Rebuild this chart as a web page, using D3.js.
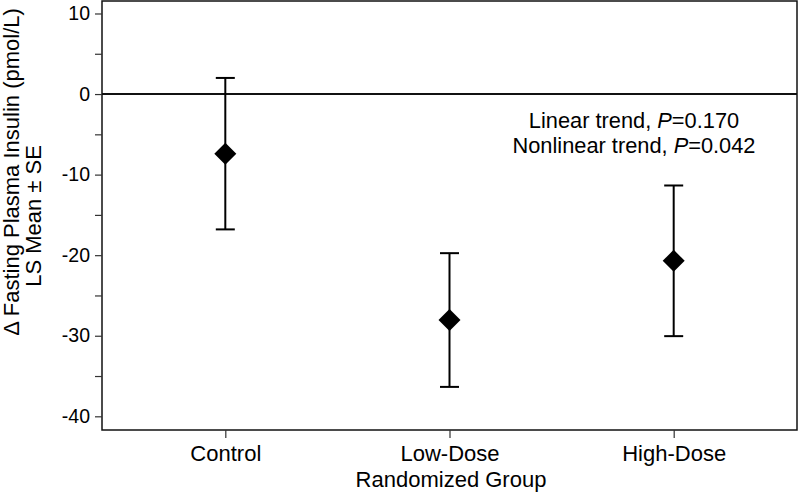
<!DOCTYPE html>
<html>
<head>
<meta charset="utf-8">
<script src="https://cdn.jsdelivr.net/npm/d3@7"></script>
<style>
  body { margin: 0; background: #fff; }
  svg { display: block; font-family: "Liberation Sans", Arial, sans-serif; }
</style>
</head>
<body>
<svg id="chart" width="800" height="495"></svg>
<script>
// LS mean change in fasting insulin, by randomized group
var groups = ["Control", "Low-Dose", "High-Dose"];
var means = [-7.4, -28.05, -20.7];
var lower = [-16.8, -36.35, -30.05];
var upper = [2.0, -19.75, -11.35];
var yTicks = [10, 5, 0, -5, -10, -15, -20, -25, -30, -35, -40];
var notes = ["Linear trend, |P|=0.170", "Nonlinear trend, |P|=0.042"];

var svg = d3.select("#chart");
var plot = {left: 102, right: 797, top: 1, bottom: 430};

var x = d3.scalePoint()
    .domain(groups)
    .range([plot.left, plot.right])
    .padding(0.55);

var y = d3.scaleLinear()
    .domain([-41.7, 11.55])
    .range([plot.bottom, plot.top]);

// frame
svg.append("rect")
    .attr("x", plot.left).attr("y", plot.top)
    .attr("width", plot.right - plot.left).attr("height", plot.bottom - plot.top)
    .attr("fill", "none")
    .attr("stroke", "#111")
    .attr("stroke-width", 1.5);

// zero reference line
svg.append("line")
    .attr("x1", plot.left).attr("x2", plot.right)
    .attr("y1", y(0)).attr("y2", y(0))
    .attr("stroke", "#111")
    .attr("stroke-width", 2);

// y axis
var yAxis = svg.append("g")
    .attr("transform", "translate(" + plot.left + ",0)")
    .call(d3.axisLeft(y)
      .tickValues(yTicks)
      .tickSize(7)
      .tickPadding(5)
      .tickFormat(function(d) { return d % 10 === 0 ? d : ""; }));
yAxis.select(".domain").remove();
yAxis.selectAll(".tick line").attr("stroke", "#333").attr("stroke-width", 1.2);
yAxis.selectAll("text")
    .attr("fill", "#000")
    .style("font-size", "19.5px")
    .style("font-family", "Liberation Sans, Arial, sans-serif");

// x axis
var xAxis = svg.append("g")
    .attr("transform", "translate(0," + plot.bottom + ")")
    .call(d3.axisBottom(x).tickSize(8).tickPadding(8));
xAxis.select(".domain").remove();
xAxis.selectAll(".tick line").attr("stroke", "#333").attr("stroke-width", 1.2);
xAxis.selectAll("text")
    .attr("fill", "#000")
    .attr("dy", 0)
    .attr("y", 31)
    .style("font-size", "22px")
    .style("font-family", "Liberation Sans, Arial, sans-serif");

// error bars
var bars = svg.append("g").selectAll("g")
    .data(groups)
    .enter().append("g");

bars.append("line")
    .attr("x1", function(d) { return x(d); })
    .attr("x2", function(d) { return x(d); })
    .attr("y1", function(d, i) { return y(upper[i]); })
    .attr("y2", function(d, i) { return y(lower[i]); })
    .attr("stroke", "#000")
    .attr("stroke-width", 2);

[upper, lower].forEach(function(arr) {
  bars.append("line")
      .attr("x1", function(d) { return x(d) - 9.5; })
      .attr("x2", function(d) { return x(d) + 9.5; })
      .attr("y1", function(d, i) { return y(arr[i]); })
      .attr("y2", function(d, i) { return y(arr[i]); })
      .attr("stroke", "#000")
      .attr("stroke-width", 2);
});

bars.append("path")
    .attr("d", d3.symbol(d3.symbolSquare, 242))
    .attr("transform", function(d, i) {
      return "translate(" + x(d) + "," + y(means[i]) + ") rotate(45)";
    })
    .attr("fill", "#000");

// trend annotation
var note = svg.append("text")
    .attr("x", 634)
    .attr("y", 128)
    .attr("text-anchor", "middle")
    .style("font-size", "21.8px");
notes.forEach(function(s, i) {
  var parts = s.split("|");
  note.append("tspan")
      .attr("x", 634)
      .attr("dy", i === 0 ? 0 : 25)
      .text(parts[0]);
  note.append("tspan").style("font-style", "italic").text(parts[1]);
  note.append("tspan").text(parts[2]);
});

// axis titles
svg.append("text")
    .attr("x", 451)
    .attr("y", 487)
    .attr("text-anchor", "middle")
    .style("font-size", "22px")
    .text("Randomized Group");

svg.append("text")
    .attr("transform", "translate(19,172) rotate(-90)")
    .attr("text-anchor", "middle")
    .style("font-size", "22px")
    .text("\u0394 Fasting Plasma Insulin (pmol/L)");

svg.append("text")
    .attr("transform", "translate(41,216) rotate(-90)")
    .attr("text-anchor", "middle")
    .style("font-size", "22px")
    .text("LS Mean \u00b1 SE");
</script>
</body>
</html>
